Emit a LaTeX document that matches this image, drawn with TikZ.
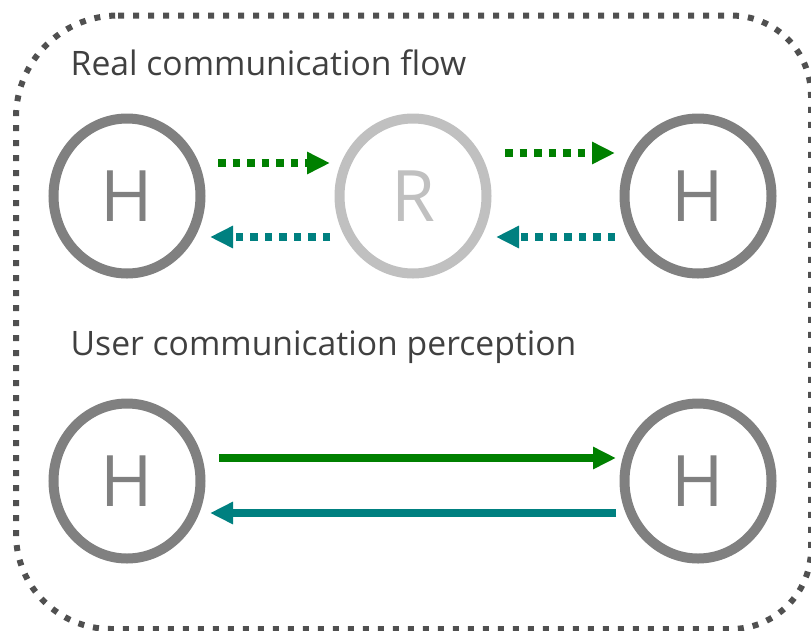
\documentclass[tikz,border=0pt]{standalone}
\usepackage{fontspec}
\setmainfont{Open Sans}
\usetikzlibrary{arrows.meta,shapes.geometric}

\definecolor{hostgray}{HTML}{808080}
\definecolor{relaygray}{HTML}{C0C0C0}
\definecolor{labelgray}{HTML}{404040}
\definecolor{framegray}{HTML}{505050}
\definecolor{flowgreen}{HTML}{008000}
\definecolor{flowteal}{HTML}{008080}

\tikzset{
  peer/.style={ellipse, draw=hostgray, line width=10pt,
    minimum width=147pt, minimum height=155pt, inner sep=0pt,
    text=hostgray, font=\fontsize{71}{71}\selectfont},
  relay/.style={peer, draw=relaygray, text=relaygray},
  caption/.style={anchor=base west, inner sep=0pt, text=labelgray,
    font=\fontsize{33.7}{33.7}\selectfont},
  tipstyle/.style={-{Triangle[length=23pt,width=21pt]}},
  dotflow/.style={tipstyle, line width=7.5pt, dash pattern=on 7.5pt off 7pt},
  solidflow/.style={tipstyle, line width=8pt},
  frameline/.style={draw=framegray, line width=6pt, dash pattern=on 6pt off 9pt},
}

\begin{document}
\begin{tikzpicture}[x=1pt, y=-1pt]
  \useasboundingbox (0,0) rectangle (811,630);

  % dotted outer frame
  \draw[frameline] (118,15.5) -- (731,15.5)
    .. controls (775.2,15.5) and (811,51.3) .. (811,95.5)
    -- (811,549)
    .. controls (811,593.2) and (775.2,629) .. (731,629)
    -- (111,629)
    .. controls (58.5,629) and (16,586.5) .. (16,534)
    -- (16,117.5)
    .. controls (16,61.2) and (61.7,15.5) .. (118,15.5) -- cycle;

  % captions
  \node[caption] (capreal) at (70.5,75) {Real communication flow};
  \node[caption] (capuser) at (70.5,355) {User communication perception};

  % real flow: host - relay - host
  \node[peer]  (h1) at (127,196) {H};
  \node[relay] (r)  at (413,196) {R};
  \node[peer]  (h2) at (698,196) {H};

  % perceived flow: host - host
  \node[peer] (h3) at (127,481) {H};
  \node[peer] (h4) at (698,481) {H};

  % dotted connectors through the relay
  \draw[dotflow, flowgreen] ([xshift=12.5pt,yshift=33pt]h1.east) -- ([xshift=-4.5pt,yshift=33pt]r.west);
  \draw[dotflow, flowteal]  ([xshift=-4.5pt,yshift=-41pt]r.west) -- ([xshift=4.5pt,yshift=-41pt]h1.east);
  \draw[dotflow, flowgreen] ([xshift=13.5pt,yshift=43pt]r.east) -- ([xshift=-4.5pt,yshift=43pt]h2.west);
  \draw[dotflow, flowteal]  ([xshift=-4.5pt,yshift=-41pt]h2.west) -- ([xshift=4.5pt,yshift=-41pt]r.east);

  % solid direct connectors
  \draw[solidflow, flowgreen] ([xshift=13.5pt,yshift=23pt]h3.east) -- ([xshift=-3.5pt,yshift=23pt]h4.west);
  \draw[solidflow, flowteal]  ([xshift=-3.5pt,yshift=-32pt]h4.west) -- ([xshift=4.5pt,yshift=-32pt]h3.east);
\end{tikzpicture}
\end{document}
